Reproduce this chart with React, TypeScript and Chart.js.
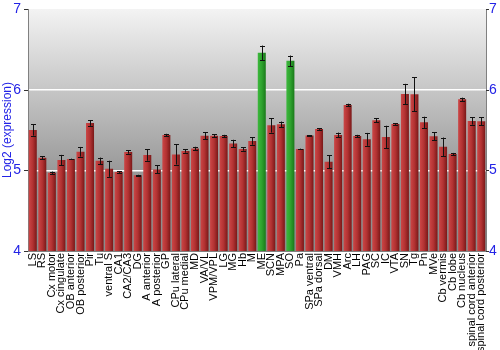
import React, { useEffect, useRef } from "react";
import { Chart, registerables } from "chart.js";

Chart.register(...registerables);

const categories = [
  "LS", "RS", "Cx motor", "Cx cingulate", "OB anterior", "OB posterior", "Pir", "Tu",
  "ventral S", "CA1", "CA2/CA3", "DG", "A anterior", "A posterior", "GP", "CPu lateral",
  "CPu medial", "MD", "VA/VL", "VPM/VPL", "LG", "MG", "Hb", "M", "ME", "SCN", "MPA", "SO",
  "Pa", "SPa ventral", "SPa dorsal", "DM", "VMH", "Arc", "LH", "PAG", "SC", "IC", "VTA",
  "SN", "Tg", "Pn", "MVe", "Cb vermis", "Cb lobe", "Cb nucleus", "spinal cord anterior",
  "spinal cord posterior",
];

const values = [
  5.50, 5.156, 4.97, 5.127, 5.14, 5.23, 5.587, 5.118,
  5.019, 4.978, 5.226, 4.94, 5.189, 5.011, 5.438, 5.197,
  5.239, 5.272, 5.429, 5.43, 5.425, 5.334, 5.264, 5.363, 6.457, 5.558, 5.57, 6.358,
  5.264, 5.433, 5.512, 5.106, 5.438, 5.811, 5.425, 5.384, 5.62, 5.413, 5.574,
  5.947, 5.943, 5.595, 5.421, 5.292, 5.201, 5.881, 5.612,
  5.607,
];

const errors = [
  0.07, 0.02, 0.015, 0.065, 0.005, 0.06, 0.035, 0.04,
  0.1, 0.01, 0.02, 0.005, 0.07, 0.05, 0.015, 0.125,
  0.02, 0.02, 0.045, 0.02, 0.015, 0.045, 0.02, 0.045, 0.09, 0.09, 0.035, 0.065,
  0.005, 0.005, 0.01, 0.08, 0.03, 0.015, 0.015, 0.08, 0.025, 0.14, 0.01,
  0.125, 0.21, 0.07, 0.05, 0.115, 0.015, 0.02, 0.045,
  0.05,
];

const highlighted = ["ME", "SO"];

const yTicks = [4, 5, 6, 7];

const BAR_PCT = 0.84;

const bgPlugin = {
  id: "bgGradient",
  beforeDraw(chart: any) {
    const { ctx, chartArea } = chart;
    if (!chartArea) return;
    const g = ctx.createLinearGradient(0, chartArea.top, 0, chartArea.bottom);
    g.addColorStop(0, "#f3f3f3");
    g.addColorStop(0.35, "#c4c4c4");
    g.addColorStop(0.7, "#959595");
    g.addColorStop(1, "#8a8a8a");
    ctx.save();
    ctx.fillStyle = g;
    ctx.fillRect(chartArea.left, chartArea.top, chartArea.right - chartArea.left, chartArea.bottom - chartArea.top);
    ctx.restore();
  },
};

const errorBarPlugin = {
  id: "errorBars",
  afterDatasetsDraw(chart: any) {
    const { ctx } = chart;
    const xs = chart.scales.x;
    const ys = chart.scales.y;
    ctx.save();
    ctx.strokeStyle = "#111";
    ctx.lineWidth = 1;
    values.forEach((v, i) => {
      const x = Math.round(xs.getPixelForValue(i)) + 0.5;
      const yt = ys.getPixelForValue(v + errors[i]);
      const yb = ys.getPixelForValue(v - errors[i]);
      ctx.beginPath();
      ctx.moveTo(x, yt);
      ctx.lineTo(x, yb);
      ctx.moveTo(x - 2.5, Math.round(yt) + 0.5);
      ctx.lineTo(x + 2.5, Math.round(yt) + 0.5);
      ctx.moveTo(x - 2.5, Math.round(yb) + 0.5);
      ctx.lineTo(x + 2.5, Math.round(yb) + 0.5);
      ctx.stroke();
    });
    ctx.restore();
  },
};

function barFill(context: any) {
  const chart = context.chart;
  const area = chart.chartArea;
  const i = context.dataIndex;
  const green = highlighted.includes(categories[i]);
  if (!area || i === undefined) return green ? "#2e9a2e" : "#b03434";
  const xs = chart.scales.x;
  const cx = xs.getPixelForValue(i);
  const w = ((area.right - area.left) / categories.length) * BAR_PCT;
  const g = chart.ctx.createLinearGradient(cx - w / 2, 0, cx + w / 2, 0);
  if (green) {
    g.addColorStop(0, "#3cb83c");
    g.addColorStop(0.5, "#2ea22e");
    g.addColorStop(1, "#1a7a1a");
  } else {
    g.addColorStop(0, "#cc4646");
    g.addColorStop(0.5, "#b23232");
    g.addColorStop(1, "#7a1818");
  }
  return g;
}

export default function App() {
  const ref = useRef<HTMLCanvasElement>(null);
  useEffect(() => {
    if (!ref.current) return;
    const blue = "#2323e6";
    const chart = new Chart(ref.current, {
      type: "bar",
      data: {
        labels: categories,
        datasets: [
          {
            data: values,
            backgroundColor: barFill as any,
            borderWidth: 0,
            categoryPercentage: 1,
            barPercentage: BAR_PCT,
          },
        ],
      },
      options: {
        animation: false,
        responsive: false,
        maintainAspectRatio: false,
        layout: { padding: { top: 9, left: 0, right: 0, bottom: 0 } },
        plugins: { legend: { display: false }, tooltip: { enabled: false } },
        scales: {
          x: {
            grid: { display: false, drawTicks: false },
            border: { color: "#808080" },
            ticks: {
              autoSkip: false,
              maxRotation: 90,
              minRotation: 90,
              padding: 2,
              color: "#000",
              font: { family: "Liberation Sans, Arial, sans-serif", size: 11 },
            },
            afterFit(scale: any) {
              scale.height = 99;
              scale.paddingLeft = 0;
              scale.paddingRight = 0;
            },
          },
          y: {
            min: 4,
            max: 7,
            position: "left",
            afterBuildTicks(scale: any) {
              scale.ticks = yTicks.map((v) => ({ value: v }));
            },
            grid: {
              color: (c: any) => (c.tick && (c.tick.value === 5 || c.tick.value === 6) ? "#ffffff" : "rgba(0,0,0,0)"),
              lineWidth: 1.5,
              drawTicks: false,
            },
            border: { color: "#808080" },
            ticks: {
              color: blue,
              padding: 7,
              font: { family: "Liberation Sans, Arial, sans-serif", size: 14 },
            },
            title: {
              display: true,
              text: "Log2 (expression)",
              color: blue,
              padding: 0,
              font: { family: "Liberation Sans, Arial, sans-serif", size: 12 },
            },
            afterFit(scale: any) {
              scale.width = 28;
              scale.paddingTop = 0;
              scale.paddingBottom = 0;
            },
          },
          y2: {
            min: 4,
            max: 7,
            position: "right",
            afterBuildTicks(scale: any) {
              scale.ticks = yTicks.map((v) => ({ value: v }));
            },
            grid: { display: false, drawTicks: false },
            border: { color: "#808080" },
            ticks: {
              color: blue,
              padding: 3,
              font: { family: "Liberation Sans, Arial, sans-serif", size: 14 },
            },
            afterFit(scale: any) {
              scale.width = 14;
              scale.paddingTop = 0;
              scale.paddingBottom = 0;
            },
          },
        },
      },
      plugins: [bgPlugin, errorBarPlugin, {
        id: "tickMarks",
        afterDraw(chart: any) {
          const { ctx, chartArea } = chart;
          const ys = chart.scales.y;
          ctx.save();
          ctx.strokeStyle = "#333";
          ctx.lineWidth = 1;
          yTicks.forEach((v) => {
            const y = Math.round(ys.getPixelForValue(v)) + 0.5;
            ctx.beginPath();
            ctx.moveTo(chartArea.left - 4, y);
            ctx.lineTo(chartArea.left, y);
            ctx.moveTo(chartArea.right, y);
            ctx.lineTo(chartArea.right + 3, y);
            ctx.stroke();
          });
          ctx.restore();
        },
      }],
    });
    return () => chart.destroy();
  }, []);
  return (
    <div style={{ position: "fixed", left: 0, top: 0, width: 500, height: 350, background: "#fff" }}>
      <canvas ref={ref} width={500} height={350} style={{ width: 500, height: 350, display: "block" }} />
    </div>
  );
}
